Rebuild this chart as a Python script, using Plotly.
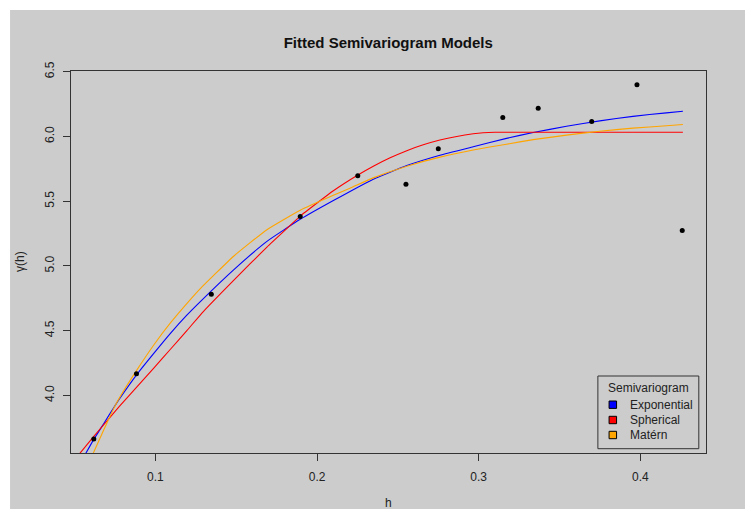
import plotly.graph_objects as go

# Empirical semivariogram
h_emp = [0.0619, 0.0883, 0.1346, 0.1896, 0.2252, 0.2550, 0.2750, 0.3149, 0.3368, 0.3699, 0.3979, 0.4259]
g_emp = [3.665, 4.167, 4.781, 5.382, 5.696, 5.631, 5.904, 6.146, 6.217, 6.115, 6.398, 5.274]

# Fitted curves
h_exp = [0.0568, 0.0619, 0.0681, 0.0742, 0.0784, 0.0887, 0.0990, 0.1093, 0.1196, 0.1278, 0.1484, 0.1690,
         0.1896, 0.2101, 0.2348, 0.2555, 0.2760, 0.2966, 0.3172, 0.3337, 0.3543, 0.3749, 0.3954, 0.4161, 0.4263]
g_exp = [3.550, 3.661, 3.784, 3.905, 3.985, 4.165, 4.325, 4.480, 4.622, 4.725, 4.970, 5.190,
         5.360, 5.505, 5.670, 5.775, 5.855, 5.920, 5.985, 6.030, 6.078, 6.120, 6.155, 6.182, 6.194]

h_sph = [0.0532, 0.0619, 0.0681, 0.0722, 0.0784, 0.0887, 0.0990, 0.1093, 0.1196, 0.1298, 0.1484, 0.1690,
         0.1834, 0.1896, 0.2101, 0.2250, 0.2348, 0.2452, 0.2555, 0.2657, 0.2760, 0.2864, 0.2966,
         0.3028, 0.3100, 0.4263]
g_sph = [3.552, 3.685, 3.775, 3.835, 3.925, 4.068, 4.212, 4.357, 4.503, 4.650, 4.889, 5.146,
         5.313, 5.385, 5.580, 5.700, 5.770, 5.835, 5.890, 5.935, 5.972, 6.000, 6.020,
         6.028, 6.032, 6.032]

h_mat = [0.0613, 0.0681, 0.0742, 0.0784, 0.0887, 0.0990, 0.1093, 0.1216, 0.1278, 0.1484, 0.1690, 0.1896,
         0.2101, 0.2204, 0.2348, 0.2555, 0.2760, 0.2966, 0.3172, 0.3337, 0.3543, 0.3749, 0.3954, 0.4161, 0.4263]
g_mat = [3.547, 3.735, 3.900, 3.995, 4.200, 4.390, 4.560, 4.740, 4.825, 5.075, 5.280, 5.430,
         5.545, 5.600, 5.680, 5.770, 5.840, 5.895, 5.940, 5.975, 6.010, 6.040, 6.064, 6.082, 6.092]

model_names = ["Exponential", "Spherical", "Matérn"]
model_colors = ["#0000FF", "#FF0000", "#FFA500"]

x_range = [0.0478, 0.4406]
y_range = [3.556, 6.505]
x_ticks = [0.1, 0.2, 0.3, 0.4]
y_ticks = [4.0, 4.5, 5.0, 5.5, 6.0, 6.5]

# page geometry: the page body has an 8px margin, so figure = page - 8
OFF = 8
W, H = 753 - OFF, 509 - OFF
L, R, T, B = 71 - OFF, 706.5 - OFF, 71 - OFF, 453 - OFF
pw, ph = R - L, B - T

def px(x):  # page pixel x -> paper
    return (x - OFF - L) / pw

def py(y):  # page pixel y -> paper
    return (B - (y - OFF)) / ph

FONT = "Liberation Sans, Arial, sans-serif"

fig = go.Figure()
for hx, gy, nm, col in zip([h_exp, h_sph, h_mat], [g_exp, g_sph, g_mat], model_names, model_colors):
    fig.add_trace(go.Scatter(x=hx, y=gy, mode="lines", name=nm,
                             line=dict(color=col, width=1.1, shape="spline", smoothing=0.4),
                             showlegend=False, hoverinfo="skip"))
fig.add_trace(go.Scatter(x=h_emp, y=g_emp, mode="markers", name="empirical",
                         marker=dict(color="black", size=5), showlegend=False))

axis_common = dict(showgrid=False, zeroline=False, showline=True, linecolor="#333333", linewidth=1,
                   mirror=True, ticks="outside", ticklen=7, tickwidth=1, tickcolor="#333333",
                   tickfont=dict(family=FONT, size=12, color="#222222"))

fig.update_xaxes(range=x_range, tickvals=x_ticks, ticktext=[str(v) for v in x_ticks],
                 ticklabelstandoff=6, **axis_common)
fig.update_yaxes(range=y_range, tickvals=y_ticks, ticktext=[f"{v:.1f}" for v in y_ticks],
                 tickangle=-90, ticklabelstandoff=4, **axis_common)

shapes = [
    # gray device background (R style) with white outer strip
    dict(type="rect", xref="paper", yref="paper", x0=px(10), x1=px(800), y0=py(560), y1=py(10),
         fillcolor="#CCCCCC", line=dict(width=0), layer="below"),
    # legend box
    dict(type="rect", xref="paper", yref="paper", x0=px(598.3), x1=px(699.3), y0=py(448.7), y1=py(376),
         fillcolor="rgba(0,0,0,0)", line=dict(color="#333333", width=1), layer="above"),
]
annotations = [
    dict(text="h", xref="paper", yref="paper", x=px(388.5), y=py(503), showarrow=False,
         xanchor="center", yanchor="middle", font=dict(family=FONT, size=12, color="#222222")),
    dict(text="γ(h)", xref="paper", yref="paper", x=px(20), y=py(262), showarrow=False, textangle=-90,
         xanchor="center", yanchor="middle", font=dict(family=FONT, size=12, color="#222222")),
    dict(text="Semivariogram", xref="paper", yref="paper", x=px(648.5), y=py(387.5), showarrow=False,
         xanchor="center", yanchor="middle", font=dict(family=FONT, size=12, color="#222222")),
]
leg_y = [404.7, 420, 435]
for nm, col, yy in zip(model_names, model_colors, leg_y):
    shapes.append(dict(type="rect", xref="paper", yref="paper", x0=px(609.5), x1=px(617), y0=py(yy + 3.7),
                       y1=py(yy - 3.7), fillcolor=col, line=dict(color="black", width=1), layer="above"))
    annotations.append(dict(text=nm, xref="paper", yref="paper", x=px(628), y=py(yy), showarrow=False,
                            xanchor="left", yanchor="middle", font=dict(family=FONT, size=12, color="#222222")))

fig.update_layout(
    width=W, height=H,
    margin=dict(l=L, r=W - R, t=T, b=H - B, pad=0),
    paper_bgcolor="white", plot_bgcolor="#CCCCCC",
    title=dict(text="<b>Fitted Semivariogram Models</b>", x=px(388.5), xref="paper",
               y=1 - (43 - OFF) / H, yref="container", xanchor="center", yanchor="middle",
               font=dict(family=FONT, size=15, color="#111111")),
    shapes=shapes, annotations=annotations, showlegend=False,
)

fig.write_html("out.html")
